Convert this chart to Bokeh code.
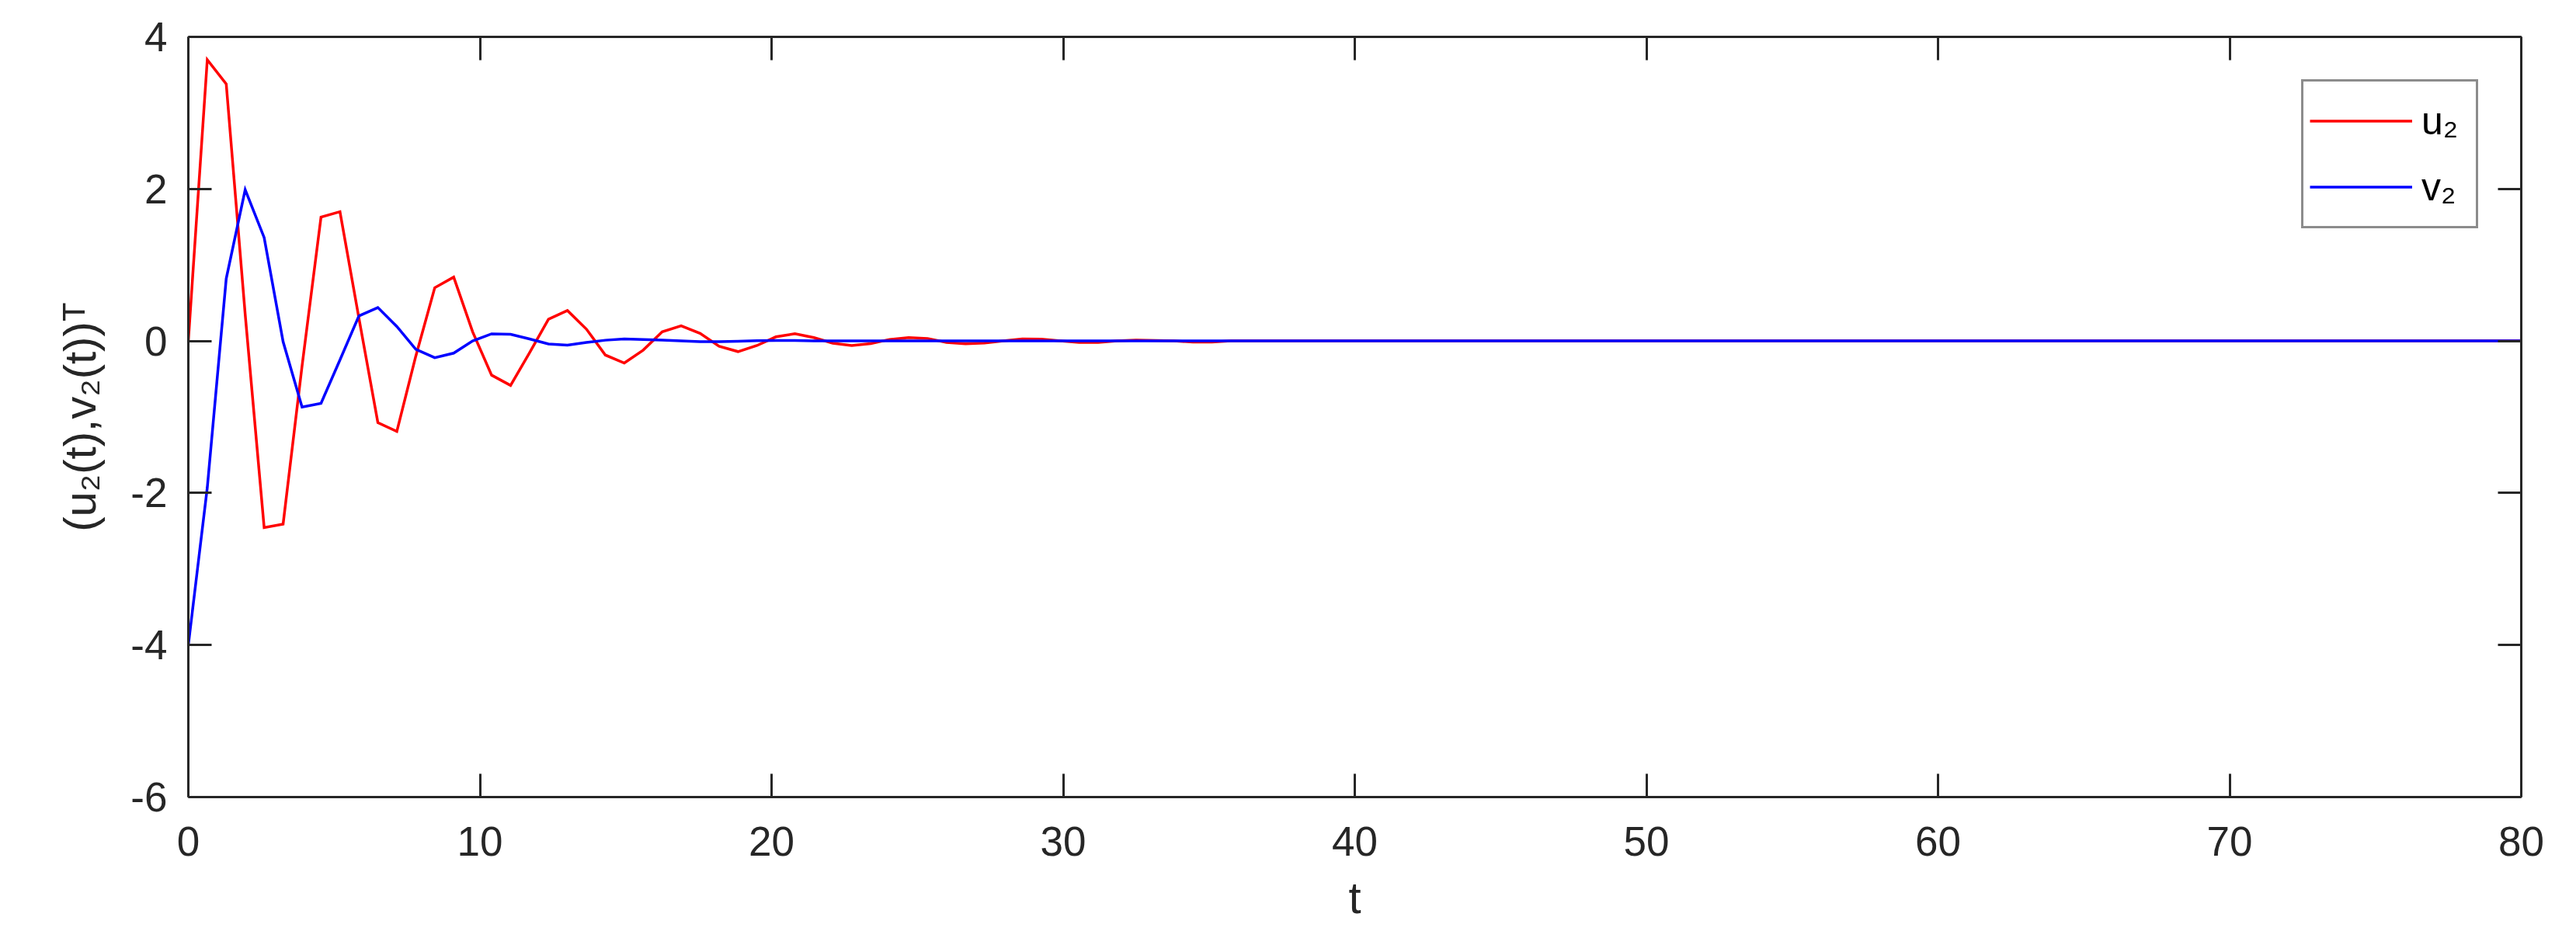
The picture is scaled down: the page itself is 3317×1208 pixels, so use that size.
from bokeh.plotting import figure
from bokeh.models import Range1d, LinearAxis, FixedTicker, CustomJSTickFormatter
from bokeh.embed import file_html
from bokeh.resources import INLINE

# sample times (step ~0.65) followed by the flat tail to t = 80
t = [0.0, 0.65, 1.3, 1.95, 2.6, 3.25, 3.9, 4.55, 5.2, 5.85,
     6.5, 7.15, 7.8, 8.45, 9.1, 9.75, 10.4, 11.05, 11.7, 12.35,
     13.0, 13.65, 14.3, 14.95, 15.6, 16.25, 16.9, 17.55, 18.2, 18.85,
     19.5, 20.15, 20.8, 21.45, 22.1, 22.75, 23.4, 24.05, 24.7, 25.35,
     26.0, 26.65, 27.3, 27.95, 28.6, 29.25, 29.9, 30.55, 31.2, 31.85,
     32.5, 33.15, 33.8, 34.45, 35.1, 35.75, 80.0]

u2 = [0.0, 3.70, 3.38, 0.35, -2.455, -2.41, -0.33, 1.63, 1.70, 0.30,
      -1.075, -1.19, -0.20, 0.70, 0.84, 0.12, -0.45, -0.585, -0.155, 0.286,
      0.40, 0.156, -0.185, -0.29, -0.12, 0.12, 0.20, 0.10, -0.07, -0.14,
      -0.06, 0.054, 0.095, 0.044, -0.03, -0.06, -0.035, 0.02, 0.044, 0.033,
      -0.02, -0.038, -0.028, 0.0, 0.027, 0.023, 0.0, -0.02, -0.02, 0.0,
      0.01, 0.005, 0.0, -0.015, -0.015, 0.0, 0.0]

v2 = [-4.0, -1.93, 0.82, 1.99, 1.36, -0.01, -0.87, -0.82, -0.25, 0.33,
      0.44, 0.19, -0.11, -0.22, -0.16, 0.0, 0.094, 0.087, 0.026, -0.04,
      -0.055, -0.02, 0.01, 0.026, 0.02, 0.01, 0.0, -0.008, -0.008, -0.004,
      0.003, 0.006, 0.005, 0.002, 0.0, 0.0, 0.0, 0.0, 0.0, 0.0,
      0.0, 0.0, 0.0, 0.0, 0.0, 0.0, 0.0, 0.0, 0.0, 0.0,
      0.0, 0.0, 0.0, 0.0, 0.0, 0.0, 0.0]

x_ticks = [0, 10, 20, 30, 40, 50, 60, 70, 80]
y_ticks = [-6, -4, -2, 0, 2, 4]

FONT = "Liberation Sans"
AX = "#262626"

p = figure(width=3301, height=1192, output_backend="svg", toolbar_location=None,
           x_range=Range1d(0, 80), y_range=Range1d(-6, 4),
           min_border_left=242, min_border_right=55, min_border_top=47, min_border_bottom=166,
           background_fill_color="white", border_fill_color="white")
p.outline_line_color = None
p.xgrid.visible = False
p.ygrid.visible = False

p.line(t, u2, line_color="#FF0000", line_width=3.5, line_join="miter", legend_label="u₂")
p.line(t, v2, line_color="#0000FF", line_width=3.5, line_join="miter", legend_label="v₂")

plain = CustomJSTickFormatter(code="return tick.toString()")
blank = CustomJSTickFormatter(code="return ''")

def style_axis(ax, ticks):
    ax.ticker = FixedTicker(ticks=ticks)
    ax.axis_line_color = AX
    ax.axis_line_width = 3
    ax.major_tick_line_color = AX
    ax.major_tick_line_width = 3
    ax.major_tick_in = 30
    ax.major_tick_out = 0
    ax.minor_tick_line_color = None
    ax.major_label_text_font = FONT
    ax.major_label_text_font_size = "53px"
    ax.major_label_text_color = AX
    ax.axis_label_text_font = FONT
    ax.axis_label_text_font_size = "58px"
    ax.axis_label_text_font_style = "normal"
    ax.axis_label_text_color = AX

xa = p.xaxis[0]
style_axis(xa, x_ticks)
xa.formatter = plain
xa.major_label_standoff = 38
xa.axis_label = "t"
xa.axis_label_standoff = 18

ya = p.yaxis[0]
style_axis(ya, y_ticks)
ya.formatter = plain
ya.major_label_standoff = 27
ya.axis_label = "(u₂(t),v₂(t))ᵀ"
ya.axis_label_standoff = 30

top = LinearAxis()
style_axis(top, x_ticks)
top.formatter = blank
top.major_label_standoff = 0
p.add_layout(top, "above")

right = LinearAxis()
style_axis(right, y_ticks)
right.formatter = blank
right.major_label_standoff = 0
p.add_layout(right, "right")

lg = p.legend[0]
lg.location = "top_right"
lg.margin = 55
lg.padding = 8
lg.spacing = 0
lg.border_line_color = "#1a1a1a"
lg.border_line_width = 3
lg.background_fill_color = "white"
lg.background_fill_alpha = 1.0
lg.glyph_width = 132
lg.glyph_height = 85
lg.label_height = 85
lg.label_width = 62
lg.label_standoff = 12
lg.label_text_font = FONT
lg.label_text_font_size = "50px"
lg.label_text_color = "black"

open("out.html", "w").write(file_html(p, INLINE))
